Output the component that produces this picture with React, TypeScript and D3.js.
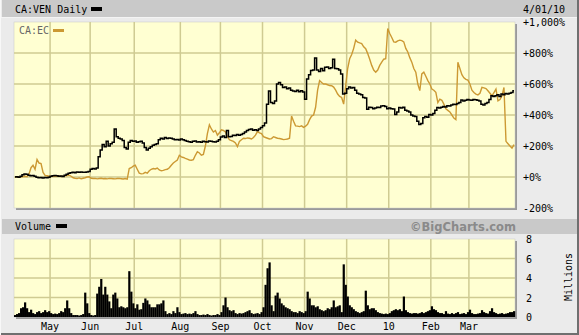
import React from "react";
import * as d3 from "d3";

// ---- data (trading-day index 0..249, Apr 2009 - Apr 1 2010) ----
const venPct: number[] = [
  0, 2, -2, 5, 15, 20, 18, 12, 8, 10,
  5, -2, -5, -3, -6, -4, -5, -2, 5, 8,
  10, 8, 5, 6, 3, 12, 18, 25, 28, 30,
  28, 32, 30, 33, 31, 30, 32, 35, 50, 55,
  52, 58, 130, 175, 210, 195, 230, 200, 215, 225,
  310, 260, 250, 245, 235, 190, 180, 225, 235, 230,
  232, 225, 228, 230, 220, 190, 175, 185, 195, 205,
  210, 215, 240, 250, 245, 255, 248, 252, 250, 245,
  240, 242, 238, 245, 240, 235, 230, 228, 225, 230,
  232, 226, 228, 225, 230, 228, 226, 232, 230, 228,
  226, 230, 240, 258, 265, 255, 300, 260, 262, 270,
  268, 275, 270, 274, 280, 290, 300, 306, 310, 302,
  305, 300, 310, 320, 330, 348, 470, 555, 480, 475,
  490, 600, 610, 595, 578, 580, 570, 575, 560, 555,
  552, 560, 550, 556, 548, 502, 633, 660, 687, 690,
  767, 690, 680, 700, 685, 708, 710, 700, 705, 759,
  700, 698, 690, 665, 535, 540, 570, 580, 575, 578,
  560, 540, 535, 530, 513, 510, 437, 450, 448, 440,
  445, 450, 448, 458, 460, 455, 441, 445, 440, 438,
  404, 420, 448, 445, 450, 430, 426, 420, 400, 393,
  390, 360, 339, 345, 383, 390, 385, 404, 400, 410,
  430, 448, 445, 450, 455, 452, 460, 458, 465, 470,
  468, 475, 480, 497, 490, 495, 500, 497, 495, 500,
  498, 495, 490, 470, 465, 475, 480, 500, 524, 520,
  525, 530, 520, 535, 530, 538, 535, 540, 545, 556,
];

const ecPct: number[] = [
  0, -2, 2, 0, 3, 5, 2, 20, 60, 76,
  50, 113, 90, 87, 30, 10, 8, 5, 3, 6,
  4, 5, 6, 3, 5, 8, 10, 12, 5, -5,
  -8, -10, -6, -12, -8, -5, 0, 2, -8, -10,
  -9, -12, -10, -8, -11, -10, -12, -9, -10, -11,
  -12, -10, -9, -11, -13, -10, -14, 55, 60, 70,
  76, 50, 25, 20, 22, 30, 25, 40, 50, 55,
  52, 58, 45, 40, 43, 48, 50, 60, 76, 90,
  100, 110, 140, 130, 126, 120, 115, 110, 108, 112,
  140, 163, 155, 141, 145, 200, 280, 337, 310, 290,
  300, 270, 285, 304, 300, 290, 260, 240, 235, 230,
  220, 196, 230, 240, 250, 248, 252, 250, 245, 255,
  270, 293, 285, 280, 260, 255, 250, 245, 248, 260,
  255, 250, 248, 245, 241, 243, 245, 250, 393, 360,
  330, 328, 325, 330, 320, 328, 340, 370, 393, 400,
  450, 560, 622, 610, 600, 600, 595, 590, 589, 580,
  560, 535, 520, 513, 470, 589, 700, 763, 790, 830,
  883, 870, 865, 861, 840, 828, 796, 760, 720, 690,
  676, 690, 720, 741, 760, 763, 958, 926, 900, 872,
  870, 878, 883, 880, 872, 830, 807, 770, 741, 700,
  676, 600, 557, 665, 676, 650, 622, 600, 567, 560,
  546, 480, 502, 495, 470, 440, 430, 420, 400, 380,
  370, 740, 700, 660, 640, 630, 625, 600, 560, 545,
  535, 530, 540, 578, 575, 570, 556, 540, 524, 545,
  567, 491, 500, 524, 578, 230, 215, 200, 187, 209,
];

const volumeM: number[] = [
  0.2, 0.3, 0.4, 0.9, 1.0, 1.5, 0.9, 0.5, 0.75, 0.4,
  0.3, 0.5, 0.6, 0.4, 0.5, 0.7, 0.5, 0.6, 0.4, 0.3,
  0.35, 0.3, 0.4, 0.6, 0.5, 0.9, 1.7, 0.9, 0.4, 0.2,
  0.2, 0.2, 0.15, 0.2, 0.3, 2.5, 1.4, 0.4, 0.2, 0.15,
  0.2, 2.4, 3.1, 3.9, 2.3, 3.1, 2.3, 1.6, 0.9, 2.3,
  2.5, 1.9, 1.0, 1.1, 1.0, 0.9, 1.0, 4.7, 2.6, 1.4,
  0.9, 1.3, 0.75, 0.8, 1.45, 1.9, 1.7, 1.3, 1.0, 1.0,
  1.0, 1.3, 1.3, 1.4, 1.7, 0.6, 0.3, 0.4, 0.3, 0.6,
  0.4, 1.0, 0.5, 0.3, 0.35, 0.4, 0.3, 0.35, 0.3, 0.4,
  0.6, 0.3, 0.2, 0.2, 0.25, 0.2, 0.3, 0.2, 0.15, 0.2,
  0.2, 0.3, 0.2, 0.5, 1.2, 2.0, 1.0, 0.7, 0.6, 0.7,
  0.4, 0.3, 0.4, 0.35, 0.4, 0.5, 0.6, 0.7, 0.4, 0.3,
  0.35, 0.4, 0.3, 0.5, 1.0, 3.3, 5.0, 5.6, 1.2, 0.6,
  2.2, 2.5, 1.9, 1.4, 1.2, 1.0, 0.9, 0.8, 0.6, 0.5,
  0.5, 0.4, 0.6, 0.5, 0.4, 0.6, 2.6, 1.9, 1.2, 1.2,
  1.0, 1.1, 0.8, 0.7, 0.6, 0.7, 0.9, 0.8, 1.0, 1.7,
  1.0, 1.1, 1.2, 0.5, 5.4, 3.3, 2.1, 1.2, 1.0, 0.8,
  0.6, 0.5, 0.4, 0.5, 0.6, 2.7, 1.2, 0.8, 0.9, 0.9,
  0.7, 0.5, 0.4, 0.35, 0.3, 0.35, 0.3, 0.4, 0.6, 0.7,
  0.8, 0.7, 0.8, 0.6, 2.1, 0.7, 0.5, 0.4, 0.35, 0.4,
  0.4, 0.35, 0.4, 0.5, 0.4, 0.5, 0.6, 0.7, 1.1, 0.8,
  0.7, 0.5, 0.4, 0.4, 0.3, 0.6, 0.35, 0.3, 0.4, 0.3,
  0.4, 0.5, 0.3, 0.35, 0.4, 0.3, 0.5, 0.75, 0.4, 0.3,
  0.3, 0.35, 0.4, 0.7, 0.5, 0.4, 0.35, 0.6, 0.9, 0.5,
  0.4, 0.3, 0.35, 0.4, 0.3, 0.35, 0.4, 0.5, 0.5, 0.6,
];

const monthLabels: string[] = ["May", "Jun", "Jul", "Aug", "Sep", "Oct", "Nov", "Dec", "10", "Feb", "Mar"];
const monthStartIdx: number[] = [18, 38, 60, 83, 103, 124, 145, 166, 187, 208, 227];
const pctTicks: number[] = [1000, 800, 600, 400, 200, 0, -200];
const volTicks: number[] = [8, 6, 4, 2, 0];

const W = 579;
const H = 335;
const PL = 14, PR = 515;
const MT = 22, MB = 208;
const VT = 239, VB = 317;
const MONO = "'DejaVu Sans Mono', monospace";
const GRID = "#cfcb92";
const PLOT_BG = "#ffffd2";
const GOLD = "#cc9933";

function fmtPct(v: number): string {
  const s = d3.format(",")(Math.abs(v));
  return (v < 0 ? "-" : "+") + s + "%";
}

export default function App() {
  const n = venPct.length;
  const x = d3.scaleLinear().domain([0, n]).range([PL, PR]);
  const y = d3.scaleLinear().domain([-200, 1000]).range([MB, MT]);
  const yv = d3.scaleLinear().domain([0, 8]).range([VB, VT]);

  const line = d3
    .line<number>()
    .x((_, i) => x(i) + 1)
    .y((d) => y(d))
    .curve(d3.curveStep);
  const ecLine = d3
    .line<number>()
    .x((_, i) => x(i) + 1)
    .y((d) => y(d));

  return (
    <svg
      width={W}
      height={H}
      style={{ position: "absolute", left: 0, top: 0, display: "block" }}
      fontFamily={MONO}
    >
      {/* frame */}
      <rect x={0} y={0} width={W} height={H} fill="#ebebeb" />
      <rect x={2} y={0} width={W - 4} height={17} fill="#c9c9c9" />
      <line x1={0} y1={17.5} x2={W} y2={17.5} stroke="#f4f4f4" />
      <rect x={2} y={219} width={W - 4} height={15} fill="#c9c9c9" />
      <rect x={W - 2} y={0} width={2} height={H} fill="#6f6f6f" />
      <rect x={0} y={H - 2} width={W} height={2} fill="#6f6f6f" />
      <rect x={0} y={0} width={1} height={H} fill="#f8f8f8" />

      {/* header */}
      <text x={15} y={13} fontSize={10} fill="#000">CA:VEN Daily</text>
      <rect x={91} y={7} width={11} height={4} fill="#000" />
      <text x={523} y={13} fontSize={10} fill="#000">4/01/10</text>

      {/* main plot */}
      <rect x={PL + 2} y={MT + 2} width={PR - PL} height={MB - MT} fill="#9a9a9a" />
      <rect x={PL} y={MT} width={PR - PL} height={MB - MT} fill={PLOT_BG} stroke="#c8c8c8" strokeWidth={0.5} />
      {pctTicks.slice(1, -1).map((t) => (
        <line key={"h" + t} x1={PL} x2={PR} y1={y(t)} y2={y(t)} stroke={GRID} strokeWidth={1.5} />
      ))}
      {monthStartIdx.map((m) => (
        <line key={"v" + m} x1={x(m)} x2={x(m)} y1={MT} y2={MB} stroke={GRID} strokeWidth={1.5} />
      ))}
      <text x={19} y={34} fontSize={10} fill="#666">CA:EC</text>
      <rect x={53} y={29} width={11} height={3} fill={GOLD} />

      <path d={ecLine(ecPct) || ""} fill="none" stroke={GOLD} strokeWidth={1.4} />
      <path d={line(venPct) || ""} fill="none" stroke="#000" strokeWidth={1.5} />

      {pctTicks.map((t) => (
        <text key={"pl" + t} x={523} y={y(t) + 4} fontSize={10} fill="#000">
          {fmtPct(t)}
        </text>
      ))}

      {/* volume header */}
      <text x={15} y={230} fontSize={10} fill="#000">Volume</text>
      <rect x={56} y={224} width={11} height={4} fill="#000" />
      <text
        x={516}
        y={231}
        fontSize={11.5}
        fontWeight="bold"
        fontFamily="'DejaVu Sans', sans-serif"
        fill="#8a8a8a"
        textAnchor="end"
      >
        ©BigCharts.com
      </text>

      {/* volume plot */}
      <rect x={PL + 2} y={VT + 2} width={PR - PL} height={VB - VT} fill="#9a9a9a" />
      <rect x={PL} y={VT} width={PR - PL} height={VB - VT} fill={PLOT_BG} stroke="#c8c8c8" strokeWidth={0.5} />
      {volTicks.slice(1, -1).map((t) => (
        <line key={"vh" + t} x1={PL} x2={PR} y1={yv(t)} y2={yv(t)} stroke={GRID} strokeWidth={1.5} />
      ))}
      {monthStartIdx.map((m) => (
        <line key={"vv" + m} x1={x(m)} x2={x(m)} y1={VT} y2={VB} stroke={GRID} strokeWidth={1.5} />
      ))}
      {volumeM.map((v, i) => (
        <rect key={"b" + i} x={x(i)} y={yv(v)} width={x(i + 1) - x(i) + 0.2} height={VB - yv(v)} fill="#000" />
      ))}
      {volTicks.map((t) => (
        <text key={"vl" + t} x={526} y={yv(t) + 4} fontSize={10} fill="#000">
          {t}
        </text>
      ))}
      <text
        transform="translate(572,277) rotate(-90)"
        fontSize={10}
        fill="#000"
        textAnchor="middle"
      >
        Millions
      </text>

      {/* month labels */}
      {monthStartIdx.map((m, k) => (
        <text key={"m" + m} x={x(m)} y={330} fontSize={10} fill="#000" textAnchor="middle">
          {monthLabels[k]}
        </text>
      ))}
    </svg>
  );
}
